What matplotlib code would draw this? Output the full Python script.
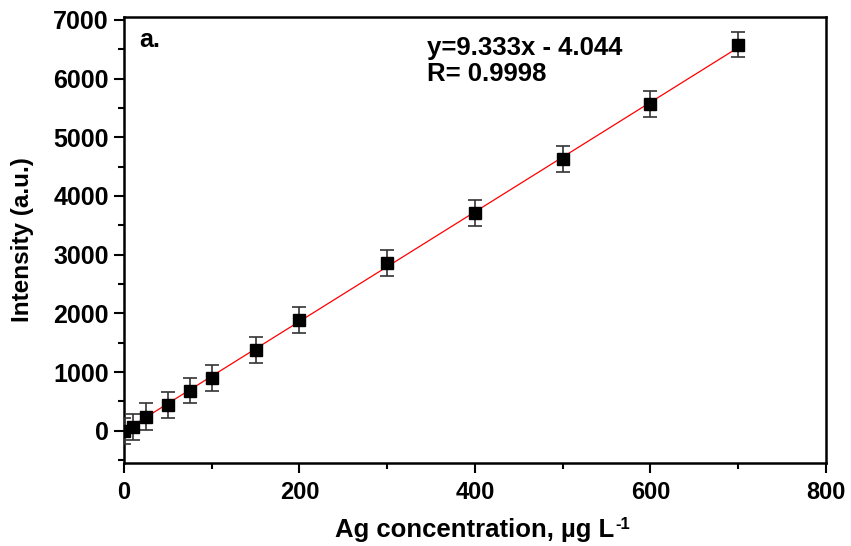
import matplotlib.pyplot as plt
from matplotlib.ticker import MultipleLocator
import numpy as np

plt.rcParams['font.family'] = ['Liberation Sans', 'DejaVu Sans']
plt.rcParams['font.weight'] = 'bold'

# calibration data
conc = [0, 10, 25, 50, 75, 100, 150, 200, 300, 400, 500, 600, 700]
intensity = [0, 70, 240, 440, 680, 900, 1380, 1880, 2860, 3710, 4630, 5560, 6580]
err = [220, 220, 230, 220, 210, 220, 220, 220, 220, 220, 220, 220, 220]

slope = 9.333
intercept = -4.044
r_value = 0.9998

fig = plt.figure(figsize=(8.51, 5.46), dpi=100)
ax = fig.add_axes([0.1457, 0.152, 0.8249, 0.817])

xfit = np.array([conc[0], conc[-1]])
ax.plot(xfit, slope * xfit + intercept, color='red', linewidth=0.9, zorder=2)
ax.errorbar(conc, intensity, yerr=err, fmt='s', color='black', markersize=8,
            ecolor='#333333', elinewidth=1.2, capsize=5, capthick=1.2, zorder=3)

ax.set_xlim(0, 800)
ax.set_ylim(-550, 7050)
ax.xaxis.set_major_locator(MultipleLocator(200))
ax.xaxis.set_minor_locator(MultipleLocator(100))
ax.yaxis.set_major_locator(MultipleLocator(1000))
ax.yaxis.set_minor_locator(MultipleLocator(500))
ax.tick_params(which='major', direction='out', length=7, width=1.5)
ax.tick_params(which='minor', direction='out', length=4, width=1.5)
ax.tick_params(axis='x', labelsize=17, pad=6)
ax.tick_params(axis='y', labelsize=18, pad=4)
for s in ax.spines.values():
    s.set_linewidth(1.8)

ax.set_xlabel('Ag concentration, µg L', fontsize=18.5, fontweight='bold', labelpad=10)
ax.set_ylabel('Intensity (a.u.)', fontsize=17.5, fontweight='bold', labelpad=14)
# superscript "-1" on the unit
ax.annotate('-1', xy=(1, 1), xycoords=ax.xaxis.label, xytext=(0.3, -10),
            textcoords='offset points', fontsize=12, fontweight='bold', va='bottom')

ax.text(0.022, 0.975, 'a.', transform=ax.transAxes, fontsize=18, fontweight='bold', va='top')
ax.text(0.432, 0.958, f'y={slope}x - {abs(intercept)}\nR= {r_value}', transform=ax.transAxes,
        fontsize=18.5, fontweight='bold', va='top', linespacing=1.1)

fig.savefig('out.png', dpi=100)
